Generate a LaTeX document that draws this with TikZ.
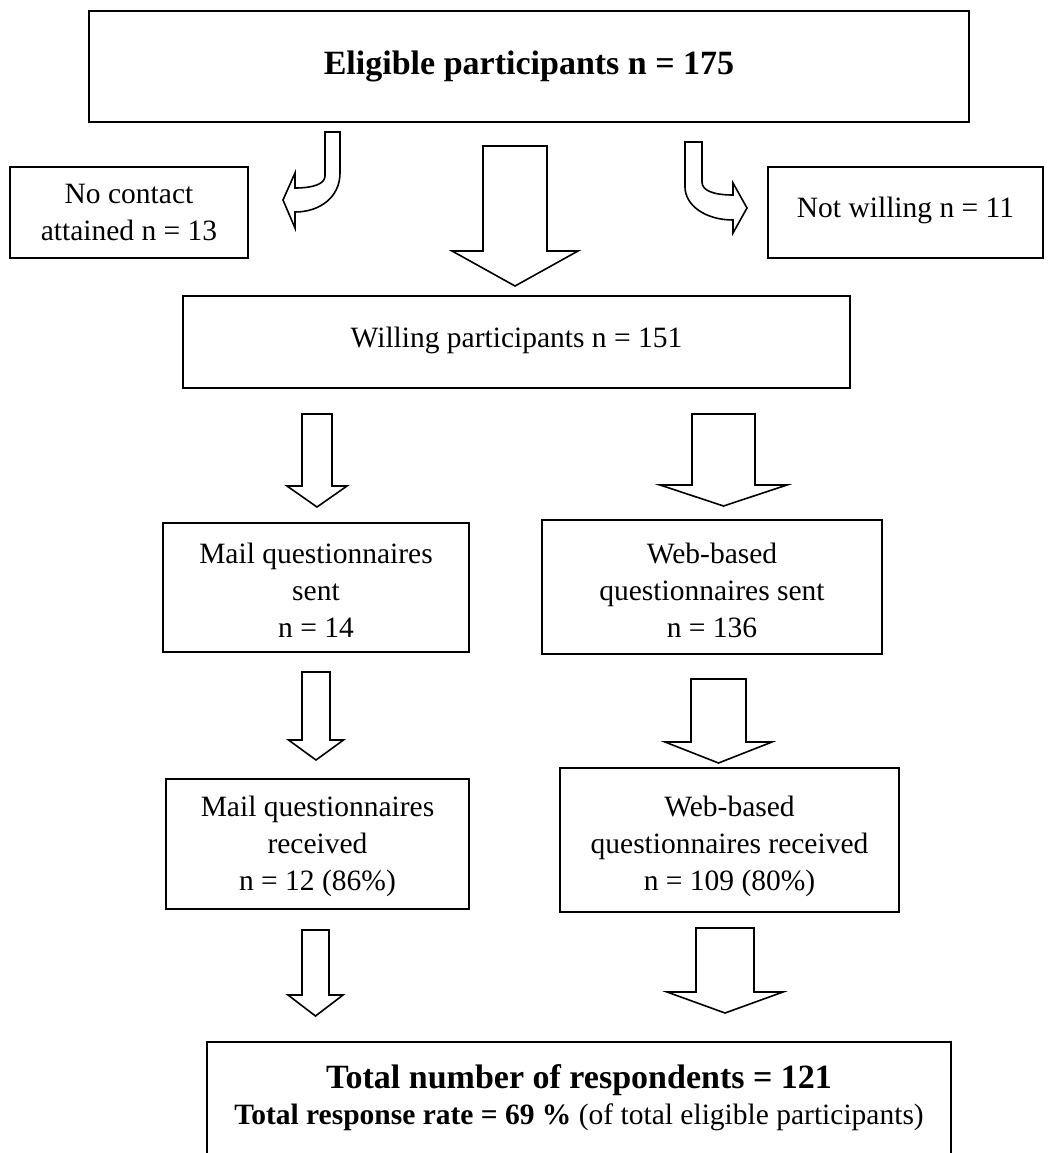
\documentclass[tikz,border=0pt]{standalone}
\usepackage{fontspec}
\setmainfont{Liberation Serif}
\newcommand\blockarr[6]{% cx, top, halfshaft, base, halfhead, tip
  \draw[arr] ({#1-#3},#2) -- ({#1+#3},#2) -- ({#1+#3},#4) -- ({#1+#5},#4) -- (#1,#6) -- ({#1-#5},#4) -- ({#1-#3},#4) -- cycle;}
\newcommand\fs[2]{\fontsize{#1}{#2}\selectfont}
\begin{document}
\begin{tikzpicture}[x=1pt,y=-1pt,
  box/.style={draw,line width=1.6pt,inner sep=0pt},
  arr/.style={draw,line width=1.6pt,line join=miter,fill=white},
  txt/.style={inner sep=0pt,align=center,font=\fs{29.5}{37}}]
\useasboundingbox (0,0) rectangle (1054,1153);
% boxes
\node[box,minimum width=880pt,minimum height=111pt] (elig) at (529,66.5) {};
\node[box,minimum width=238pt,minimum height=91pt] (nocont) at (129,212.5) {};
\node[box,minimum width=275pt,minimum height=91pt] (notw) at (905.5,212.5) {};
\node[box,minimum width=667pt,minimum height=92pt] (will) at (516.5,342) {};
\node[box,minimum width=306pt,minimum height=129pt] (msent) at (316,587.5) {};
\node[box,minimum width=340pt,minimum height=134pt] (wsent) at (712,587) {};
\node[box,minimum width=303pt,minimum height=130pt] (mrec) at (317.5,844) {};
\node[box,minimum width=339pt,minimum height=144pt] (wrec) at (729.5,840) {};
\draw[line width=1.6pt] (207,1153) -- (207,1042) -- (951,1042) -- (951,1153);
% texts
\node[txt,font=\fs{34}{40}\bfseries] (eligT) at (529,66) {Eligible participants n = 175};
\node[txt] (nocontT) at (129,212) {No contact\\attained n = 13};
\node[txt] (notwT) at (905.5,210) {Not willing n = 11};
\node[txt] (willT) at (516.5,340) {Willing participants n = 151};
\node[txt] (msentT) at (316,590) {Mail questionnaires\\sent\\n = 14};
\node[txt] (wsentT) at (712,590) {Web-based\\questionnaires sent\\n = 136};
\node[txt] (mrecT) at (317.5,846) {Mail questionnaires\\received\\n = 12 (86\%)};
\node[txt] (wrecT) at (729.5,846) {Web-based\\questionnaires received\\n = 109 (80\%)};
\node[txt,font=\fs{34}{40}\bfseries] (total1) at (579,1080) {Total number of respondents = 121};
\node[txt] (total2) at (579,1117) {\textbf{Total response rate = 69 \%} (of total eligible participants)};
% curved arrows
\draw[arr] (325,132) -- (340,132) -- (340,173) .. controls (340,197) and (320,212) .. (295,212) -- (295,228) -- (283,200) -- (295,173) -- (295,188) .. controls (313,188) and (325,184) .. (325,176) -- cycle;
\draw[arr] (685,142) -- (702,142) -- (702,182) .. controls (702,190) and (712,195) .. (733,195) -- (733,183) -- (747,208) -- (733,233) -- (733,220) .. controls (705,220) and (685,205) .. (685,187) -- cycle;
% block arrows
\blockarr{515}{146}{32}{251}{63}{286}
\blockarr{317}{414}{15}{486}{30}{507}
\blockarr{723.5}{414}{31.5}{485}{63.5}{506}
\blockarr{316}{672}{14}{740}{27.5}{760}
\blockarr{718.5}{679}{27.5}{742}{53.5}{763}
\blockarr{315.5}{930}{13.5}{995}{27.5}{1016}
\blockarr{725}{928}{29}{992}{58}{1013}
\end{tikzpicture}
\end{document}
